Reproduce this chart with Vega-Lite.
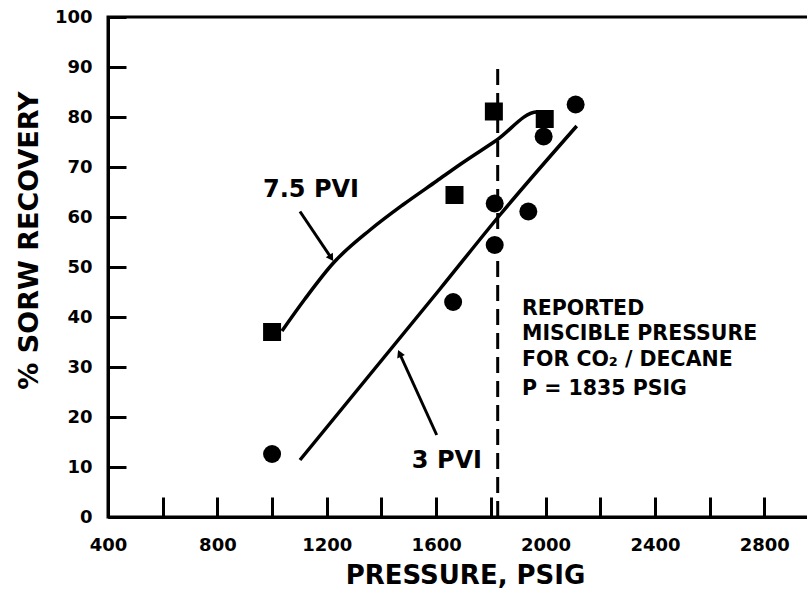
{
  "$schema": "https://vega.github.io/schema/vega-lite/v6.json",
  "width": 702,
  "height": 500,
  "autosize": "none",
  "padding": {"left": 108, "top": 17, "right": 0, "bottom": 73},
  "background": "white",
  "config": {
    "view": {"stroke": "black", "strokeWidth": 3},
    "font": "DejaVu Sans"
  },
  "datasets": {
    "points": [
      {"series": "7.5 PVI", "pressure": 1000, "recovery": 37},
      {"series": "7.5 PVI", "pressure": 1667, "recovery": 64.4},
      {"series": "7.5 PVI", "pressure": 1811, "recovery": 81.1},
      {"series": "7.5 PVI", "pressure": 1997, "recovery": 79.6},
      {"series": "3 PVI", "pressure": 1000, "recovery": 12.6},
      {"series": "3 PVI", "pressure": 1662, "recovery": 43},
      {"series": "3 PVI", "pressure": 1814, "recovery": 62.7},
      {"series": "3 PVI", "pressure": 1814, "recovery": 54.4},
      {"series": "3 PVI", "pressure": 1937, "recovery": 61.1},
      {"series": "3 PVI", "pressure": 1993, "recovery": 76.1},
      {"series": "3 PVI", "pressure": 2110, "recovery": 82.5}
    ],
    "curves": [
      {"series": "7.5 PVI", "pressure": 1036, "recovery": 37.2},
      {"series": "7.5 PVI", "pressure": 1120, "recovery": 43.6},
      {"series": "7.5 PVI", "pressure": 1224, "recovery": 50.8},
      {"series": "7.5 PVI", "pressure": 1358, "recovery": 57.4},
      {"series": "7.5 PVI", "pressure": 1480, "recovery": 62.5},
      {"series": "7.5 PVI", "pressure": 1602, "recovery": 67.2},
      {"series": "7.5 PVI", "pressure": 1690, "recovery": 70.6},
      {"series": "7.5 PVI", "pressure": 1822, "recovery": 75.4},
      {"series": "7.5 PVI", "pressure": 1969, "recovery": 81},
      {"series": "7.5 PVI", "pressure": 2005, "recovery": 80},
      {"series": "3 PVI", "pressure": 1102, "recovery": 11.4},
      {"series": "3 PVI", "pressure": 1614, "recovery": 45.6},
      {"series": "3 PVI", "pressure": 1833, "recovery": 60.4},
      {"series": "3 PVI", "pressure": 2114, "recovery": 78.2}
    ],
    "arrows": [
      {"label": "7.5 PVI", "pressure": 1102, "recovery": 61.1, "pressure2": 1214, "recovery2": 52},
      {"label": "3 PVI", "pressure": 1602, "recovery": 16.4, "pressure2": 1468, "recovery2": 32.5}
    ],
    "curveLabels": [
      {"text": "7.5 PVI", "pressure": 967, "recovery": 64},
      {"text": "3 PVI", "pressure": 1511, "recovery": 9.8}
    ],
    "note": [
      {"text": "REPORTED", "pressure": 1914, "recovery": 40.4},
      {"text": "MISCIBLE PRESSURE", "pressure": 1914, "recovery": 35.4},
      {"text": "FOR CO₂ / DECANE", "pressure": 1914, "recovery": 30.2},
      {"text": "P = 1835 PSIG", "pressure": 1914, "recovery": 24.4}
    ],
    "miscible": [{"pressure": 1825, "recovery": 0, "recovery2": 90}]
  },
  "layer": [
    {
      "data": {"name": "points"},
      "mark": {"type": "point", "filled": true, "opacity": 1, "size": 324, "color": "black"},
      "encoding": {
        "x": {
          "field": "pressure", "type": "quantitative",
          "scale": {"domain": [400, 2967], "nice": false, "zero": false},
          "axis": {
            "title": "PRESSURE, PSIG",
            "values": [400, 600, 800, 1000, 1200, 1400, 1600, 1800, 2000, 2200, 2400, 2600, 2800],
            "format": "d",
            "labelExpr": "datum.value % 400 === 0 ? datum.label : ''",
            "grid": false,
            "tickSize": -20, "tickWidth": 3, "tickColor": "black",
            "domainColor": "black", "domainWidth": 3,
            "labelPadding": 39, "labelFlush": false, "labelOverlap": false,
            "labelFont": "DejaVu Sans", "labelFontWeight": "bold", "labelFontSize": 18, "labelColor": "black",
            "titleFont": "DejaVu Sans", "titleFontWeight": "bold", "titleFontSize": 26, "titleColor": "black",
            "titleX": 357, "titleY": 66, "titleBaseline": "alphabetic", "titleAlign": "center"
          }
        },
        "y": {
          "field": "recovery", "type": "quantitative",
          "scale": {"domain": [0, 100], "nice": false},
          "axis": {
            "title": "% SORW RECOVERY",
            "values": [0, 10, 20, 30, 40, 50, 60, 70, 80, 90, 100],
            "grid": false,
            "tickSize": -18, "tickWidth": 3, "tickColor": "black",
            "domainColor": "black", "domainWidth": 3,
            "labelPadding": 34, "labelFlush": false, "labelOverlap": false,
            "labelFont": "DejaVu Sans", "labelFontWeight": "bold", "labelFontSize": 18, "labelColor": "black",
            "titleFont": "DejaVu Sans", "titleFontWeight": "bold", "titleFontSize": 27, "titleColor": "black",
            "titleX": -71, "titleY": 223, "titleBaseline": "alphabetic", "titleAlign": "center", "titleAngle": -90
          }
        },
        "shape": {
          "field": "series", "type": "nominal",
          "scale": {"domain": ["7.5 PVI", "3 PVI"], "range": ["square", "circle"]},
          "legend": null
        }
      }
    },
    {
      "data": {"name": "curves"},
      "mark": {"type": "line", "color": "black", "strokeWidth": 3.5, "interpolate": "monotone"},
      "encoding": {
        "x": {"field": "pressure", "type": "quantitative"},
        "y": {"field": "recovery", "type": "quantitative"},
        "detail": {"field": "series", "type": "nominal"}
      }
    },
    {
      "data": {"name": "miscible"},
      "mark": {"type": "rule", "color": "black", "strokeWidth": 3, "strokeDash": [16, 8]},
      "encoding": {
        "x": {"field": "pressure", "type": "quantitative"},
        "y": {"field": "recovery", "type": "quantitative"},
        "y2": {"field": "recovery2"}
      }
    },
    {
      "data": {"name": "arrows"},
      "mark": {"type": "rule", "color": "black", "strokeWidth": 3},
      "encoding": {
        "x": {"field": "pressure", "type": "quantitative"},
        "y": {"field": "recovery", "type": "quantitative"},
        "x2": {"field": "pressure2"},
        "y2": {"field": "recovery2"}
      }
    },
    {
      "data": {"name": "arrows"},
      "transform": [{"filter": "datum.label === '7.5 PVI'"}],
      "mark": {"type": "point", "shape": "triangle", "filled": true, "opacity": 1, "color": "black", "size": 70, "angle": 147.6},
      "encoding": {
        "x": {"field": "pressure2", "type": "quantitative"},
        "y": {"field": "recovery2", "type": "quantitative"}
      }
    },
    {
      "data": {"name": "arrows"},
      "transform": [{"filter": "datum.label === '3 PVI'"}],
      "mark": {"type": "point", "shape": "triangle", "filled": true, "opacity": 1, "color": "black", "size": 70, "angle": 335.7},
      "encoding": {
        "x": {"field": "pressure2", "type": "quantitative"},
        "y": {"field": "recovery2", "type": "quantitative"}
      }
    },
    {
      "data": {"name": "curveLabels"},
      "mark": {"type": "text", "font": "DejaVu Sans", "fontWeight": "bold", "fontSize": 24, "color": "black", "align": "left", "baseline": "alphabetic"},
      "encoding": {
        "x": {"field": "pressure", "type": "quantitative"},
        "y": {"field": "recovery", "type": "quantitative"},
        "text": {"field": "text"}
      }
    },
    {
      "data": {"name": "note"},
      "mark": {"type": "text", "font": "DejaVu Sans", "fontWeight": "bold", "fontSize": 20.5, "color": "black", "align": "left", "baseline": "alphabetic"},
      "encoding": {
        "x": {"field": "pressure", "type": "quantitative"},
        "y": {"field": "recovery", "type": "quantitative"},
        "text": {"field": "text"}
      }
    }
  ]
}
